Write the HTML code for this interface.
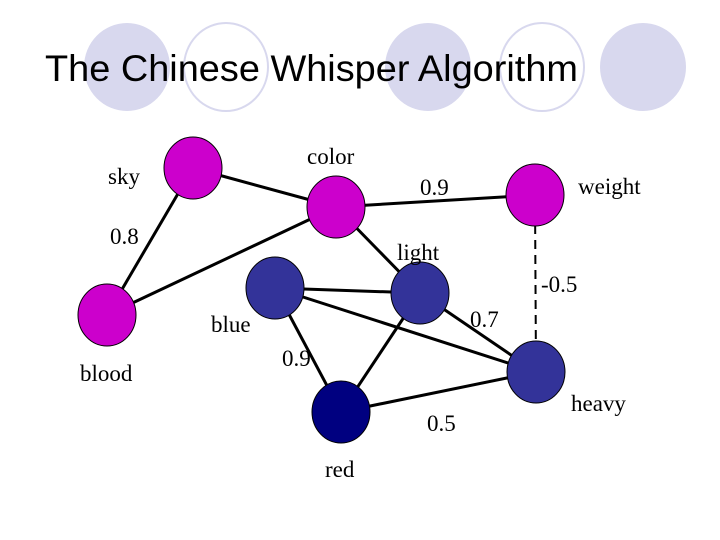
<!DOCTYPE html>
<html><head><meta charset="utf-8"><style>
html,body{margin:0;padding:0;background:#fff;width:720px;height:540px;overflow:hidden}
svg{display:block}
</style></head><body>
<svg width="720" height="540" viewBox="0 0 720 540" xmlns="http://www.w3.org/2000/svg">
<g>
<ellipse cx="127" cy="67" rx="43" ry="44" fill="#d8d8ee"/>
<ellipse cx="226" cy="67" rx="42" ry="44" fill="none" stroke="#d8d8ee" stroke-width="2"/>
<ellipse cx="428" cy="67" rx="43" ry="44" fill="#d8d8ee"/>
<ellipse cx="542" cy="67" rx="42" ry="44" fill="none" stroke="#d8d8ee" stroke-width="2"/>
<ellipse cx="643" cy="67" rx="43" ry="44" fill="#d8d8ee"/>
</g>
<text x="45" y="81" font-family="Liberation Sans, sans-serif" font-size="37" textLength="533" lengthAdjust="spacingAndGlyphs" fill="#000">The Chinese Whisper Algorithm</text>
<g stroke="#000" stroke-width="3" fill="none">
<line x1="193" y1="168" x2="336" y2="207"/>
<line x1="193" y1="168" x2="107" y2="315"/>
<line x1="336" y1="207" x2="535" y2="195"/>
<line x1="336" y1="207" x2="107" y2="315"/>
<line x1="336" y1="207" x2="420" y2="293"/>
<line x1="275" y1="288" x2="420" y2="293"/>
<line x1="275" y1="288" x2="341" y2="412"/>
<line x1="275" y1="288" x2="536" y2="372"/>
<line x1="420" y1="293" x2="341" y2="412"/>
<line x1="420" y1="293" x2="536" y2="372"/>
<line x1="341" y1="412" x2="536" y2="372"/>
<line x1="535" y1="195" x2="536" y2="372" stroke-width="2" stroke-dasharray="9,6"/>
</g>
<g stroke="#000" stroke-width="1">
<ellipse cx="193" cy="168" rx="29" ry="31" fill="#cc00cc"/>
<ellipse cx="336" cy="207" rx="29" ry="31" fill="#cc00cc"/>
<ellipse cx="535" cy="195" rx="29" ry="31" fill="#cc00cc"/>
<ellipse cx="107" cy="315" rx="29" ry="31" fill="#cc00cc"/>
<ellipse cx="275" cy="288" rx="29" ry="31" fill="#333399"/>
<ellipse cx="420" cy="293" rx="29" ry="31" fill="#333399"/>
<ellipse cx="536" cy="372" rx="29" ry="31" fill="#333399"/>
<ellipse cx="341" cy="412" rx="29" ry="31" fill="#000080"/>
</g>
<g font-family="Liberation Serif, serif" font-size="23" fill="#000">
<text x="108" y="184">sky</text>
<text x="307" y="164">color</text>
<text x="420" y="195">0.9</text>
<text x="578" y="194">weight</text>
<text x="110" y="244">0.8</text>
<text x="397" y="260">light</text>
<text x="541" y="292">-0.5</text>
<text x="470" y="327">0.7</text>
<text x="211" y="332">blue</text>
<text x="80" y="381">blood</text>
<text x="282" y="366">0.9</text>
<text x="571" y="411">heavy</text>
<text x="427" y="431">0.5</text>
<text x="325" y="477">red</text>
</g>
</svg>
</body></html>
